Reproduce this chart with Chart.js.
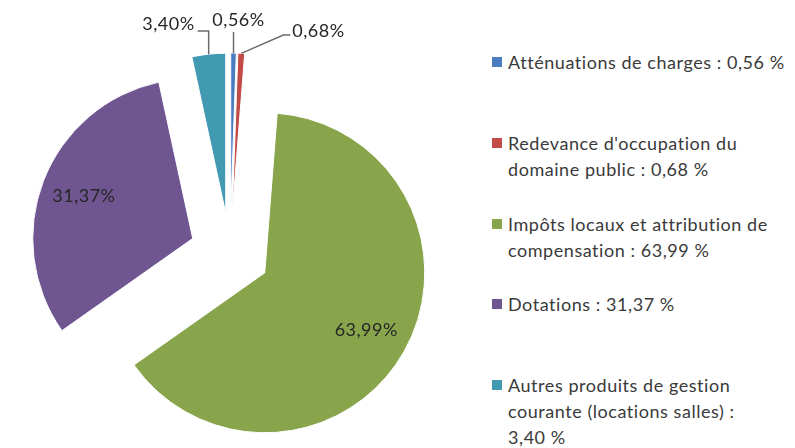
<!DOCTYPE html>
<html><head><meta charset="utf-8">
<script src="https://cdn.jsdelivr.net/npm/chart.js@4"></script>
<style>
body{margin:0;background:#fff;width:795px;height:448px;overflow:hidden;position:relative;font-family:Lato,"Open Sans",sans-serif;}
#c{position:absolute;left:0;top:0;}
.item{position:absolute;left:492px;width:303px;display:flex;align-items:flex-start;color:#3a3a3a;font-size:18px;letter-spacing:0.55px;line-height:26px;}
.sw{width:10px;height:10px;margin-top:8px;margin-right:6px;flex:none}
.txt{width:286px}
</style></head><body>
<canvas id="c" width="460" height="448"></canvas>
<div id="legend"></div>
<script>
const categories = [
  "Atténuations de charges",
  "Redevance d'occupation du domaine public",
  "Impôts locaux et attribution de compensation",
  "Dotations",
  "Autres produits de gestion courante (locations salles)"
];
const values = [0.56, 0.68, 63.99, 31.37, 3.40];
const colors = ["#4a7cc0", "#c24b47", "#88a54c", "#6f5691", "#4299b2"];

const fmt = v => v.toFixed(2).replace('.', ',');

// HTML legend
const legend = document.getElementById('legend');
categories.forEach((name, i) => {
  const d = document.createElement('div');
  d.className = 'item';
  d.style.top = (62 + 80.8 * i - 13) + 'px';
  d.innerHTML = '<div class="sw" style="background:' + colors[i] + '"></div><div class="txt"></div>';
  d.querySelector('.txt').textContent = name + ' : ' + fmt(values[i]) + '\u00a0%';
  legend.appendChild(d);
});

const EXPLODE = 40;
const explodePlugin = {
  id: 'explode',
  beforeDatasetsDraw(chart) {
    const a = chart.chartArea;
    const cx = (a.left + a.right) / 2, cy = (a.top + a.bottom) / 2;
    chart.getDatasetMeta(0).data.forEach(el => {
      const h = (el.startAngle + el.endAngle) / 2;
      el.x = cx + Math.cos(h) * EXPLODE;
      el.y = cy + Math.sin(h) * EXPLODE;
    });
  },
  afterDatasetsDraw(chart) {
    const ctx = chart.ctx;
    const els = chart.getDatasetMeta(0).data;
    ctx.save();
    ctx.font = '18px Lato, "Open Sans", sans-serif';
    if ('letterSpacing' in ctx) ctx.letterSpacing = '0.5px';
    ctx.fillStyle = '#262626';
    ctx.textBaseline = 'middle';
    els.forEach((el, i) => {
      const h = (el.startAngle + el.endAngle) / 2;
      const R = el.outerRadius;
      const label = fmt(values[i]) + '%';
      const ax = el.x + Math.cos(h) * R, ay = el.y + Math.sin(h) * R;
      if (values[i] > 10) {
        ctx.textAlign = 'center';
        ctx.fillText(label, el.x + Math.cos(h) * R * 0.73, el.y + Math.sin(h) * R * 0.73);
        return;
      }
      let pts, tx, ty, align;
      if (i === 0) { pts = [[ax, ay], [ax, 32]]; tx = ax + 5; ty = 20; align = 'center'; }
      else if (i === 1) { pts = [[ax, ay], [ax + 42, 35], [ax + 49, 35]]; tx = ax + 51; ty = 31; align = 'left'; }
      else { pts = [[ax, ay], [ax, 31], [ax - 11, 31]]; tx = ax - 14; ty = 24; align = 'right'; }
      ctx.strokeStyle = '#6b6b6b';
      ctx.lineWidth = 1.5;
      ctx.beginPath();
      pts.forEach((p, k) => k ? ctx.lineTo(p[0], p[1]) : ctx.moveTo(p[0], p[1]));
      ctx.stroke();
      ctx.textAlign = align;
      ctx.fillText(label, tx, ty);
    });
    ctx.restore();
  }
};

new Chart(document.getElementById('c'), {
  type: 'pie',
  data: {
    labels: categories,
    datasets: [{
      data: values,
      backgroundColor: colors,
      borderColor: '#ffffff',
      borderWidth: 1
    }]
  },
  options: {
    responsive: false,
    animation: false,
    events: [],
    radius: 160,
    layout: { padding: { top: 58 } },
    plugins: { legend: { display: false }, tooltip: { enabled: false } }
  },
  plugins: [explodePlugin]
});
</script>
</body></html>
